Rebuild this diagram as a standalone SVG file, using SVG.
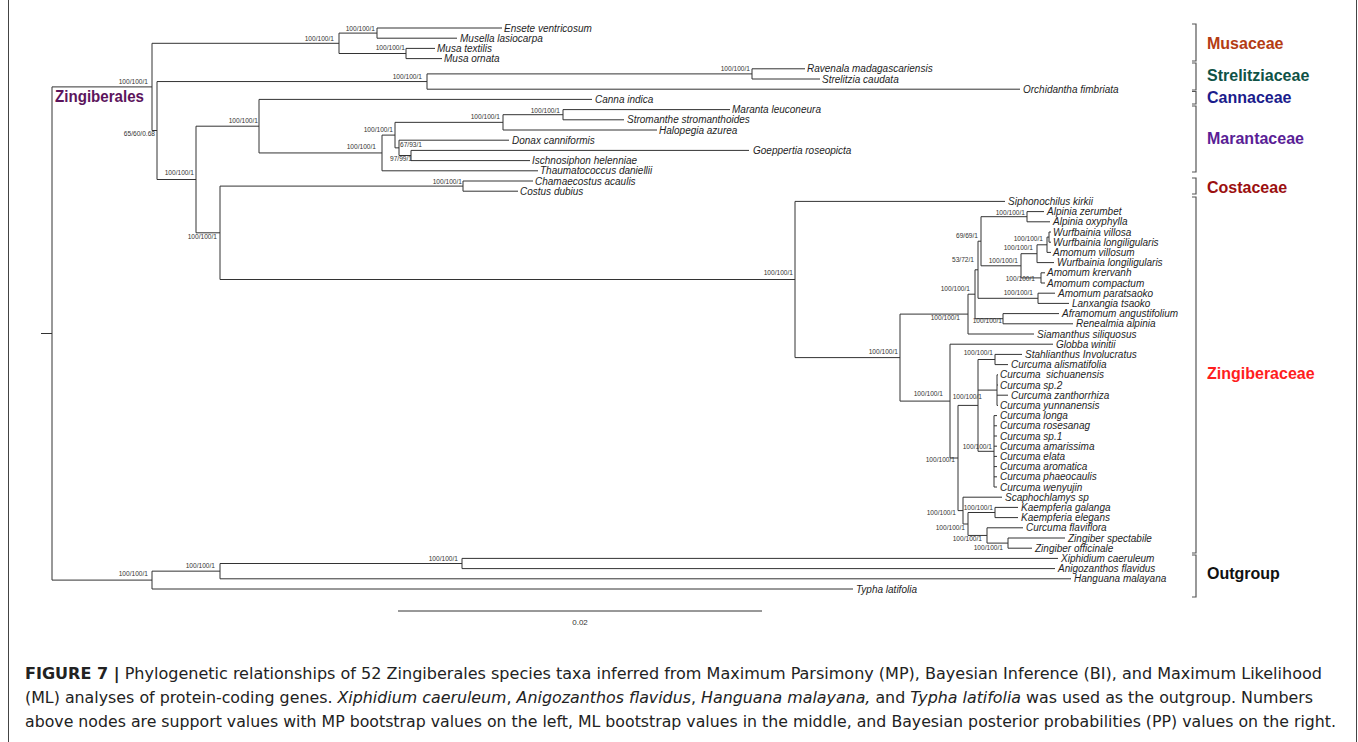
<svg xmlns="http://www.w3.org/2000/svg" width="1358" height="742" viewBox="0 0 1358 742">
<style>
.br{stroke:#333;stroke-width:1;fill:none}
.bk{stroke:#555;stroke-width:1.2;fill:none}
.tx{font-family:"Liberation Sans",Arial,sans-serif;font-style:italic;font-size:10px;fill:#1e1e1e}
.sv{font-family:"Liberation Sans",Arial,sans-serif;font-size:6.6px;fill:#333;text-anchor:end}
.fam{font-family:"Liberation Sans",Arial,sans-serif;font-weight:bold;font-size:16px}
.cap{font-family:"Liberation Sans Narrow","DejaVu Sans Condensed","Liberation Sans",sans-serif;font-size:16.5px;fill:#222}
</style>
<rect x="0" y="0" width="1358" height="742" fill="#fff"/>
<g id="frame" stroke="#444" stroke-width="1" fill="none">
<path d="M8.5 0V742M1356.5 0V742"/>
</g>
<g id="connectors" class="br">
<path d="M41 333.5H52M52 86.9V580.1M52 86.9H152M152 43.3V130.5M152 43.3H339M339 33.1V53.5M339 33.1H377M377 28V38.2M377 28H502M377 38.2H457M339 53.5H406M406 48.4V58.6M406 48.4H435M406 58.6H442"/>
<path d="M152 130.5H157M157 81.55V179.5M157 81.55H427M427 73.9V89.2M427 73.9H752M752 68.8V79M752 68.8H805M752 79H820M427 89.2H1020"/>
<path d="M157 179.5H196M196 126.2V232.8M196 126.2H259M259 99.4V152.95M259 99.4H592M259 152.95H382M382 135.1V170.8M382 135.1H395M395 122.35V147.85M395 122.35H503M503 114.7V130M503 114.7H563M563 109.6V119.8M563 109.6H730M563 119.8H624M503 130H657M395 147.85H399M399 140.2V155.5M399 140.2H509M399 155.5H411M411 150.4V160.6M411 150.4H749M411 160.6H530M382 170.8H538"/>
<path d="M196 232.8H220M220 186.1V279.5M220 186.1H463M463 181V191.2M463 181H533M463 191.2H518M220 279.5H795M795 201.4V357.6M795 201.4H1005"/>
<path d="M795 357.6H900M900 314.1V401.1M900 314.1H968M968 294.2V334M968 334H1034M968 294.2H975M975 269.8V318.7M975 269.8H978M978 241.2V298.3M978 241.2H981M981 216.7V265.8M981 216.7H1027M1027 211.6V221.8M1027 211.6H1044M1027 221.8H1050M981 265.8H1021M1021 253.7V277.9M1021 253.7H1037M1037 244.8V262.6M1037 262.6H1054M1037 244.8H1047M1047 237.1V252.4M1047 252.4H1051M1047 237.1H1049M1049 232V242.2M1049 232H1051M1049 242.2H1051M1021 277.9H1041M1041 272.8V283M1041 272.8H1045M1041 283H1045M978 298.3H1038M1038 293.2V303.4M1038 293.2H1055M1038 303.4H1069M975 318.7H1003M1003 313.6V323.8M1003 313.6H1059M1003 323.8H1073"/>
<path d="M900 401.1H950M950 344.2V458M950 344.2H1053M950 458H958M958 405.4V510.6M958 405.4H978M978 359.5V451.3M978 359.5H995M995 354.4V364.6M995 354.4H1022M995 364.6H1008M978 390.1H997M997 374.8V405.4M997 374.8H998M997 385H998M997 395.2H1008M997 405.4H998M978 451.3H994M994 415.6V487M994 415.6H997M994 425.8H997M994 436H997M994 446.2H997M994 456.4H997M994 466.6H997M994 476.8H997M994 487H997"/>
<path d="M958 510.6H963M963 497.2V524M963 497.2H1002M963 524H968M968 512.5V535.45M968 512.5H995M995 507.4V517.6M995 507.4H1018M995 517.6H1018M968 535.45H987M987 527.8V543.1M987 527.8H1023M987 543.1H1008M1008 538V548.2M1008 538H1065M1008 548.2H1032"/>
<path d="M52 580.1H152M152 571.15V589M152 571.15H220M220 563.5V578.8M220 563.5H462M462 558.4V568.6M462 558.4H1058M462 568.6H1055M220 578.8H1071M152 589H853"/>
<path d="M398 611H762"/>
</g>
<g id="support" class="sv">
<text x="334" y="41.3">100/100/1</text>
<text x="375" y="31.3">100/100/1</text>
<text x="405" y="50.3">100/100/1</text>
<text x="148" y="84.3">100/100/1</text>
<text x="155" y="136.3">65/60/0.68</text>
<text x="422" y="79.3">100/100/1</text>
<text x="750" y="71.3">100/100/1</text>
<text x="194" y="175.3">100/100/1</text>
<text x="258" y="123.3">100/100/1</text>
<text x="376" y="149.3">100/100/1</text>
<text x="393" y="132.3">100/100/1</text>
<text x="500" y="119.3">100/100/1</text>
<text x="560" y="113.3">100/100/1</text>
<text x="422" y="147.3">67/93/1</text>
<text x="412" y="161.3">97/99/1</text>
<text x="462" y="184.3">100/100/1</text>
<text x="217" y="239.3">100/100/1</text>
<text x="793" y="275.3">100/100/1</text>
<text x="898" y="354.3">100/100/1</text>
<text x="960" y="320.3">100/100/1</text>
<text x="970" y="291.3">100/100/1</text>
<text x="974" y="262.3">53/72/1</text>
<text x="978" y="238.3">69/69/1</text>
<text x="1025" y="215.3">100/100/1</text>
<text x="1018" y="263.3">100/100/1</text>
<text x="1033" y="250.3">100/100/1</text>
<text x="1043" y="241.3">100/100/1</text>
<text x="1035" y="281.3">100/100/1</text>
<text x="1033" y="295.3">100/100/1</text>
<text x="1002" y="323.3">100/100/1</text>
<text x="943" y="396.3">100/100/1</text>
<text x="993" y="355.3">100/100/1</text>
<text x="982" y="399.3">100/100/1</text>
<text x="992" y="449.3">100/100/1</text>
<text x="955" y="462.3">100/100/1</text>
<text x="956" y="515.3">100/100/1</text>
<text x="993" y="510.3">100/100/1</text>
<text x="965" y="530.3">100/100/1</text>
<text x="982" y="541.3">100/100/1</text>
<text x="1003" y="550.3">100/100/1</text>
<text x="148" y="576.3">100/100/1</text>
<text x="215" y="568.3">100/100/1</text>
<text x="458" y="561.3">100/100/1</text>
</g>
<g class="tx">
<g id="ensete"><text x="504" y="31.5">Ensete ventricosum</text></g>
<g id="musella"><text x="460" y="41.7">Musella lasiocarpa</text></g>
<g id="musa-textilis"><text x="437" y="51.9">Musa textilis</text></g>
<g id="musa-ornata"><text x="444" y="62.1">Musa ornata</text></g>
<g id="ravenala"><text x="807" y="72.3">Ravenala madagascariensis</text></g>
<g id="strelitzia"><text x="822" y="82.5">Strelitzia caudata</text></g>
<g id="orchidantha"><text x="1023" y="92.7">Orchidantha fimbriata</text></g>
<g id="canna"><text x="595" y="102.9">Canna indica</text></g>
<g id="maranta"><text x="732" y="113.1">Maranta leuconeura</text></g>
<g id="stromanthe"><text x="627" y="123.3">Stromanthe stromanthoides</text></g>
<g id="halopegia"><text x="659" y="133.5">Halopegia azurea</text></g>
<g id="donax"><text x="512" y="143.7">Donax canniformis</text></g>
<g id="goeppertia"><text x="753" y="153.9">Goeppertia roseopicta</text></g>
<g id="ischnosiphon"><text x="532" y="164.1">Ischnosiphon helenniae</text></g>
<g id="thaumatococcus"><text x="540" y="174.3">Thaumatococcus daniellii</text></g>
<g id="chamaecostus"><text x="535" y="184.5">Chamaecostus acaulis</text></g>
<g id="costus"><text x="520" y="194.7">Costus dubius</text></g>
<g id="siphonochilus"><text x="1008" y="204.9">Siphonochilus kirkii</text></g>
<g id="alpinia-zerumbet"><text x="1047" y="215.1">Alpinia zerumbet</text></g>
<g id="alpinia-oxyphylla"><text x="1053" y="225.3">Alpinia oxyphylla</text></g>
<g id="wurfbainia-villosa"><text x="1053" y="235.5">Wurfbainia villosa</text></g>
<g id="wurfbainia-longiligularis-1"><text x="1053" y="245.7">Wurfbainia longiligularis</text></g>
<g id="amomum-villosum"><text x="1053" y="255.9">Amomum villosum</text></g>
<g id="wurfbainia-longiligularis-2"><text x="1057" y="266.1">Wurfbainia longiligularis</text></g>
<g id="amomum-krervanh"><text x="1047" y="276.3">Amomum krervanh</text></g>
<g id="amomum-compactum"><text x="1047" y="286.5">Amomum compactum</text></g>
<g id="amomum-paratsaoko"><text x="1058" y="296.7">Amomum paratsaoko</text></g>
<g id="lanxangia"><text x="1072" y="306.9">Lanxangia tsaoko</text></g>
<g id="aframomum"><text x="1062" y="317.1">Aframomum angustifolium</text></g>
<g id="renealmia"><text x="1076" y="327.3">Renealmia alpinia</text></g>
<g id="siamanthus"><text x="1037" y="337.5">Siamanthus siliquosus</text></g>
<g id="globba"><text x="1056" y="347.7">Globba winitii</text></g>
<g id="stahlianthus"><text x="1025" y="357.9">Stahlianthus Involucratus</text></g>
<g id="curcuma-alismatifolia"><text x="1011" y="368.1">Curcuma alismatifolia</text></g>
<g id="curcuma-sichuanensis"><text x="1000" y="378.3" xml:space="preserve">Curcuma  sichuanensis</text></g>
<g id="curcuma-sp2"><text x="1000" y="388.5">Curcuma sp.2</text></g>
<g id="curcuma-zanthorrhiza"><text x="1011" y="398.7">Curcuma zanthorrhiza</text></g>
<g id="curcuma-yunnanensis"><text x="1000" y="408.9">Curcuma yunnanensis</text></g>
<g id="curcuma-longa"><text x="1000" y="419.1">Curcuma longa</text></g>
<g id="curcuma-rosesanag"><text x="1000" y="429.3">Curcuma rosesanag</text></g>
<g id="curcuma-sp1"><text x="1000" y="439.5">Curcuma sp.1</text></g>
<g id="curcuma-amarissima"><text x="1000" y="449.7">Curcuma amarissima</text></g>
<g id="curcuma-elata"><text x="1000" y="459.9">Curcuma elata</text></g>
<g id="curcuma-aromatica"><text x="1000" y="470.1">Curcuma aromatica</text></g>
<g id="curcuma-phaeocaulis"><text x="1000" y="480.3">Curcuma phaeocaulis</text></g>
<g id="curcuma-wenyujin"><text x="1000" y="490.5">Curcuma wenyujin</text></g>
<g id="scaphochlamys"><text x="1005" y="500.7">Scaphochlamys sp</text></g>
<g id="kaempferia-galanga"><text x="1021" y="510.9">Kaempferia galanga</text></g>
<g id="kaempferia-elegans"><text x="1021" y="521.1">Kaempferia elegans</text></g>
<g id="curcuma-flaviflora"><text x="1026" y="531.3">Curcuma flaviflora</text></g>
<g id="zingiber-spectabile"><text x="1068" y="541.5">Zingiber spectabile</text></g>
<g id="zingiber-officinale"><text x="1035" y="551.7">Zingiber officinale</text></g>
<g id="xiphidium"><text x="1061" y="561.9">Xiphidium caeruleum</text></g>
<g id="anigozanthos"><text x="1058" y="572.1">Anigozanthos flavidus</text></g>
<g id="hanguana"><text x="1074" y="582.3">Hanguana malayana</text></g>
<g id="typha"><text x="856" y="592.5">Typha latifolia</text></g>
</g>
<g id="scale"><text x="580" y="625" font-family="Liberation Sans, Arial, sans-serif" font-size="8" fill="#333" text-anchor="middle">0.02</text></g>
<g id="zingiberales"><text x="55" y="101.5" class="fam" font-size="15.5" fill="#5c145c" textLength="89" lengthAdjust="spacingAndGlyphs">Zingiberales</text></g>
<g id="brackets" class="bk">
<path d="M1192 24H1196V61H1192"/>
<path d="M1192 63H1196V90H1192"/>
<path d="M1192 91.5H1196V104H1192"/>
<path d="M1192 106H1196V172H1192"/>
<path d="M1192 178H1196V194H1192"/>
<path d="M1192 197H1196V553H1192"/>
<path d="M1192 555H1196V597H1192"/>
</g>
<g id="fam-musaceae"><text x="1207" y="49" class="fam" fill="#b43c14">Musaceae</text></g>
<g id="fam-strelitziaceae"><text x="1207" y="81" class="fam" fill="#0f5246">Strelitziaceae</text></g>
<g id="fam-cannaceae"><text x="1207" y="103" class="fam" fill="#1a1c8c">Cannaceae</text></g>
<g id="fam-marantaceae"><text x="1207" y="144" class="fam" fill="#5a1e96">Marantaceae</text></g>
<g id="fam-costaceae"><text x="1207" y="193" class="fam" fill="#9b0f0f">Costaceae</text></g>
<g id="fam-zingiberaceae"><text x="1207" y="379" class="fam" fill="#ff1e1e">Zingiberaceae</text></g>
<g id="fam-outgroup"><text x="1207" y="579" class="fam" fill="#111">Outgroup</text></g>
<g id="caption" class="cap">
<text x="25" y="679" textLength="1297" lengthAdjust="spacingAndGlyphs"><tspan font-weight="bold">FIGURE 7 |</tspan> Phylogenetic relationships of 52 Zingiberales species taxa inferred from Maximum Parsimony (MP), Bayesian Inference (BI), and Maximum Likelihood</text>
<text x="25" y="703" textLength="1288" lengthAdjust="spacingAndGlyphs">(ML) analyses of protein-coding genes. <tspan font-style="italic">Xiphidium caeruleum</tspan>, <tspan font-style="italic">Anigozanthos flavidus</tspan>, <tspan font-style="italic">Hanguana malayana,</tspan> and <tspan font-style="italic">Typha latifolia</tspan> was used as the outgroup. Numbers</text>
<text x="25" y="727" textLength="1311" lengthAdjust="spacingAndGlyphs">above nodes are support values with MP bootstrap values on the left, ML bootstrap values in the middle, and Bayesian posterior probabilities (PP) values on the right.</text>
</g>
</svg>
